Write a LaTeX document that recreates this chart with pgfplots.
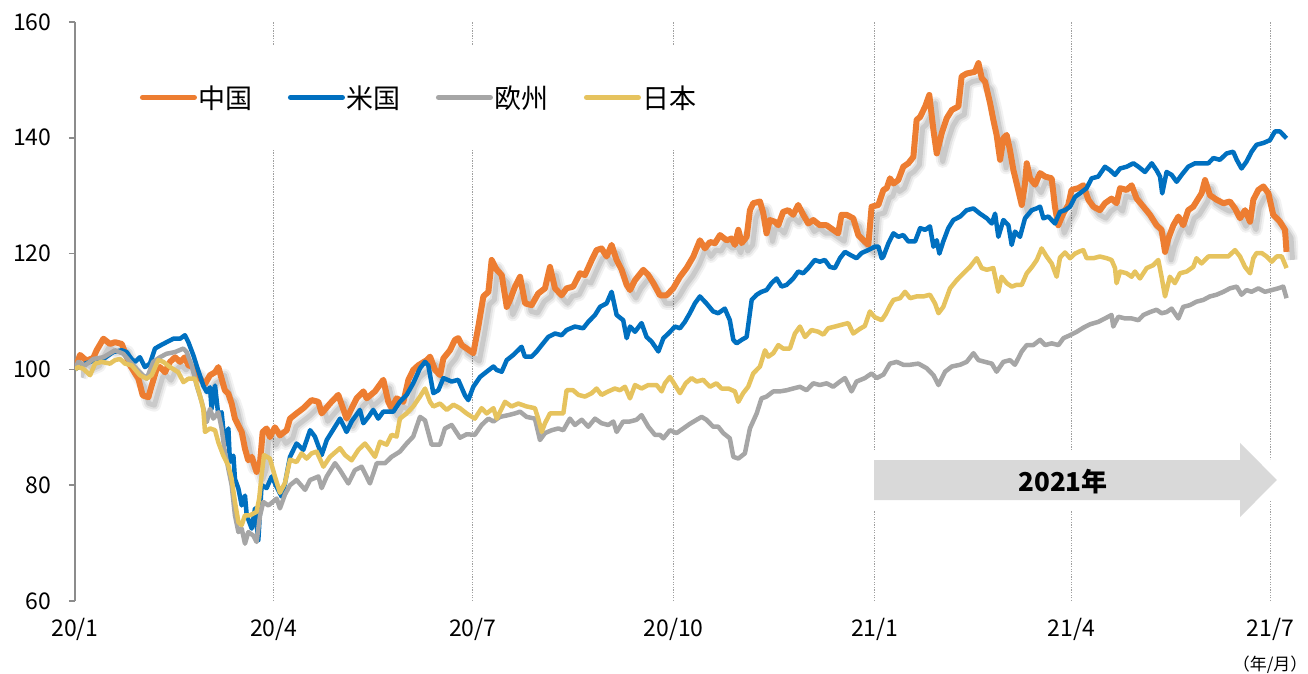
\documentclass[border=0pt]{standalone}
\usepackage{fontspec}
\setmainfont{Noto Sans CJK JP}
\usepackage{pgfplots}
\usepackage{pgfplotstable}
\pgfplotsset{compat=1.18}
\definecolor{cnorange}{HTML}{ED7D31}
\definecolor{usblue}{HTML}{0070C0}
\definecolor{eugray}{HTML}{A6A6A6}
\definecolor{jpyellow}{HTML}{E6C35E}
\definecolor{axisgray}{HTML}{8C8C8C}
\definecolor{gridgray}{HTML}{A0A0A0}
\definecolor{arrowgray}{HTML}{D9D9D9}

\pgfplotstableread{
d v
0 100
2.3 102.5
5.3 101.5
8.4 102
9.9 103.3
13 105.3
16 104.4
18.3 104.7
21.4 104.4
25.2 100.7
29 98.4
31 95.5
33.6 95.2
35.1 97.2
37.4 100.1
38.9 100.4
41.2 99.5
43.5 101.3
45.8 102.1
48.1 101.3
50.3 102.1
51.9 100.7
54.2 100.4
57.2 98.4
59.5 97.5
61.8 99
64.1 99.5
65.6 100.4
67.1 98.4
68.6 96.4
70.2 95.8
71.7 94.1
73.2 91.5
76.3 89.2
77.8 86.3
79.3 84.3
80.9 84.9
83.1 82.3
84.7 84
85.9 89.2
87.7 89.8
89.2 88.3
91.5 90
93.8 88.6
96.9 89.5
98.4 91.5
101.4 92.4
104.5 93.3
108.3 94.7
111.4 94.4
112.9 92.4
116.7 94.1
120.5 95.6
124.3 91.5
128.9 95
132 96.2
133.5 95
137.3 96.2
141.1 98.2
143.4 94.4
144.9 93.3
147.2 95
150.3 94.4
152.6 98.2
154.8 99.9
157.1 100.7
161 101.6
162.5 102.2
164.8 99.9
167.1 99
168.6 101.9
171.6 103.3
173.9 105.1
175.4 105.4
177 104.2
179.3 103.6
182.3 102.8
184.6 107.4
186.9 112.6
189.2 113.4
190.7 118.9
193 117.2
195.3 116.3
197.6 110.8
199.1 112
201.4 114.3
203.7 116
206 111.4
209 111.1
212 113.1
215.1 114
217.4 117.7
219.7 114
222.7 112.8
225 114
228 114.3
231.1 116.6
233.4 116.3
236.5 118.9
238.7 120.6
241 120.9
243.3 119.5
245.6 121.5
247.9 118.9
250.2 117.2
252.5 114.6
254 113.7
256.3 115.4
260.1 117.2
262.4 116.3
264.7 114.9
267.7 112.8
270.8 112.8
273.8 114
276.9 116
279.9 117.5
283 119.5
286 122.3
288.3 120.9
290.6 122
292.9 121.8
295.2 123.2
298.2 122.3
300.5 122.6
302 121.5
303.6 124.1
305.1 121.8
307.4 122.9
308.9 127.5
310.4 128.7
313.5 129
315 127
316.5 123.5
318 125.8
320.3 125.5
321.9 124.9
324.1 127.2
326.4 127.5
328.7 126.7
331 128.4
333.3 126.7
335.6 125.2
337.9 125.8
340.9 124.9
344 124.9
347 124.1
349.3 123.5
350.8 126.7
353.1 126.7
356.2 126.1
358.5 123.2
360.8 122.3
363.1 121.5
364.6 128.1
367.7 128.4
370 131
371.5 131.3
373 133
374.6 132.1
376.8 132.7
379.1 135
381.4 135.6
383.7 136.7
385.2 143.1
386.8 143.6
389.1 145.4
391 147.4
392.9 141.3
394.4 137.3
396.7 140.8
399 143.4
401.3 144.8
404.3 145.4
405.8 150.6
408.1 151.1
411.9 151.4
413.5 152.9
415 150.3
416.5 149.7
418.8 146
420.3 143.1
421.8 140.5
423.4 136.2
424.9 139.9
426.4 140.5
427.9 137.9
429.5 134.4
431 132.1
433.3 128.4
434.8 132.1
435.6 135.6
437.1 133
439.4 131.9
441.7 133.9
444 133.3
447 133
448.5 128.1
450 124.9
452.4 127
454.6 128.4
456.1 131
459.2 131.3
461.5 131.8
463.8 129.3
466.1 128.1
469.1 127.5
471.4 128.7
474.4 129.5
476.7 128.7
478.3 131.3
481.3 131
483.6 131.8
485.9 129.5
489 128.1
492 126.7
495 124.9
497.3 124.1
498.9 120.3
500.4 122.6
502.7 124.9
505 126.4
507.2 124.9
509.5 127.5
511.8 128.1
514.1 129.5
515.6 130.4
517.2 132.7
519.4 130.1
522.5 129.3
525.6 128.7
528.6 129
530.9 127.8
533.2 126.1
535.5 127.5
537.8 125.5
539.3 129.3
541.6 131
543.9 131.6
546.2 130.4
548.4 126.7
551.5 125.5
553.8 124.1
554.5 120.3
}\china

\pgfplotstableread{
d v
0 100
1.5 100.4
4.6 101
8.4 101.5
13 101.8
17.5 103
21.4 103.3
23.6 103
25.9 101.8
27.5 101.3
29.7 102.1
32 100.4
34.3 101
36.6 103.6
38.9 104.1
41.9 104.7
45 105.3
48.1 105.3
50.3 105.9
51.9 104.7
54.2 102.4
56.4 99.8
58.7 97.2
60.3 96.1
61.8 96.9
62.5 93.2
64.1 97.2
65.6 92.1
67.1 92.6
68.6 86.9
70.2 89.8
70.9 84
72.5 85.1
73.2 81.1
74.8 79.4
76.3 76.5
77.8 78.2
78.6 74.8
80.9 72.5
82.4 76
83.9 70.5
85.4 80
87.7 79.5
90 81.5
92.3 79.7
94.6 78
96.1 80.3
98.4 84.9
101.4 87.2
104.5 86.1
107.6 89.5
109.8 88.4
112.9 85.2
115.2 87.8
119 90.1
121.3 91.5
124.3 89.2
126.6 91
130.4 93
132 90.7
134.3 91.8
136.5 93
138.8 91.5
141.1 92.7
145.7 92.7
148.7 94.4
151.8 95.6
154.8 97.6
157.9 100.2
160.2 101.3
161.7 100.7
164 95.9
166.3 96.4
168.6 98.5
172.4 97.9
175.4 98.2
178.5 95.5
180 94.7
182.3 97
185.4 98.7
188.4 99.6
191.5 100.5
193 99.9
195.3 99.6
197.6 101.6
200.6 102.5
204.4 103.9
205.9 102.2
209 102.2
211.3 103.1
213.6 104.2
216.6 105.6
219.7 106.2
222.7 105.9
225 106.8
228.8 107.4
232.6 107.1
234.9 108.2
238 109.4
240.3 110.8
243.3 111.4
245.6 113.4
246.4 112
247.9 109.4
250.9 108.5
252.5 105.4
254 107.4
256.3 106.5
259.3 108
261.6 105.6
263.9 104.8
267 103.1
269.3 105.4
271.6 106.2
274.6 107.4
276.9 107.1
279.1 108.2
281.4 109.7
283.7 111.4
286 112.6
289 111.4
292.1 110
294.4 109.7
297.4 110.5
299.7 108.5
301.3 105.1
302.8 104.5
305.1 105.1
307.4 105.6
309.7 112
312 112.9
314.2 113.4
316.5 113.7
318.8 114.9
321.1 115.7
323.4 114.3
325.7 114.6
328.7 115.7
331 116.9
333.3 116.6
335.6 117.5
338.6 118.9
340.9 118.6
343.2 118.9
345.5 117.7
347.8 117.5
350.1 119.2
352.4 120.3
354.7 119.8
357.7 119.2
360 120.1
363 120.6
366.1 121.2
367.7 121.2
369.2 119.2
370 119.5
372.3 121.8
374.6 123.5
376.8 122.9
379.1 123.2
381.4 122.1
384.5 122.1
386.8 124.4
389.1 124.1
391.3 124.7
392.9 121.2
394.4 122.3
395.6 120
397.4 122.1
399.7 124.4
402 125.8
405.1 126.4
408.1 127.5
411.2 127.8
414.2 126.9
417.3 126.1
419.6 125.2
421.1 126.9
422.6 122.9
424.9 125.8
427.2 124.9
428.7 121.5
430.2 123.8
432.5 122.9
434.8 126.1
437.9 127.5
440.1 127.8
441.7 128.1
443.2 126.1
445.5 126.4
448.5 125.2
450.8 127.2
453.1 127.5
455.4 128.1
457.7 129.8
459.9 130.4
463 131.3
465.3 133
468.3 133.3
471.4 135
473.7 134.4
476 133.6
478.3 134.7
481.3 135
484.4 135.6
486.7 135
489.7 134.1
492.8 135.6
495 134.4
496.6 133.3
497.6 130.4
499.6 134.1
501.9 133.6
504.2 132.4
506.5 133.6
509.5 135
512.6 135.6
515.6 135.6
518.7 135.6
521 136.5
524 136.2
527.1 137.3
530.1 137.6
531.7 136.2
533.9 134.7
536.2 135.9
538.5 137.6
540.8 138.8
543.9 139.1
546.9 139.6
549.2 141.1
551.5 141.1
553 140.5
554.5 139.9
}\usa

\pgfplotstableread{
d v
0 100
1.5 101.3
4.6 100.7
8.4 101.8
13 102.1
18.3 103.3
22.1 102.7
25.2 101.3
29.7 99.5
32.8 98.4
35.8 101.3
38.9 102.1
41.9 102.7
45.8 103
49.6 103.6
51.1 103
53.4 100.7
55.7 97.2
58 94.4
60.3 90.9
61.8 93.2
63.3 91.5
65.6 92.6
67.1 89.8
68.6 85.7
70.2 82.8
71.7 80
73.2 74.8
74.8 71.9
76.3 72.5
77.8 69.9
79.3 71.9
81.6 71.3
83.1 70.2
84.7 74.8
86.2 77.1
88.5 76.5
90.8 77.2
92.3 77.7
93.8 76
96.1 78.4
98.4 80
101.4 80.9
105.3 79.2
107.6 80.9
111.4 81.5
112.9 79.5
115.2 81.5
119 83.8
121.3 82.6
125.1 80.3
128.1 82.6
131.2 83.2
135 80.3
138.1 83.8
141.9 83.8
144.9 84.9
148.7 85.8
151.8 87.2
154.8 88.4
157.9 91.8
160.2 91.2
163.2 87
167 87
169.3 89.8
172.4 90.4
176.2 88.2
179.3 88.8
183 88.7
186.1 90.4
189.2 91.5
191.5 91
194.5 91.8
198.3 92.1
201.4 92.4
203.7 92.7
206.7 91.8
210.5 91.5
212.8 87.8
215.1 89
218.2 89.5
221.2 89.8
223.5 89.5
226.5 91.5
228.8 90.4
231.9 91.3
234.9 90.1
238 91.5
241 90.7
244.1 90.4
246.4 91
247.9 89.2
250.9 91
254 91
257 91.3
259.3 92.1
262.4 90.1
265.4 88.7
267.7 88.7
269.3 88.1
272.3 89.5
275.3 89
278.4 89.8
281.4 90.6
284.5 91.3
286.8 91.8
289 91.3
292.1 90.1
294.4 90.1
296.7 89
299.7 88.1
301.3 84.9
303.6 84.6
306.6 85.5
308.9 89.8
312 92.4
314.2 95
316.5 95.3
319.6 96.2
322.6 96.2
325.7 96.4
328.7 96.7
331.8 97
334.8 96.4
337.9 97.6
340.9 97.3
344 97.6
347 97
350.1 97.9
352.4 98.5
355.4 96.2
357.7 97.9
361.5 98.5
364.6 99.3
366.9 98.5
370 99.1
373 101
376.1 101.3
379.1 100.8
382.2 100.8
386 101
389.8 100.2
392.9 99
395.2 97.3
398.2 99.6
401.3 100.5
405.1 100.8
408.1 101.3
411.2 102.8
413.5 101.6
416.5 101.3
419.6 101
421.8 99.6
424.9 101.3
427.9 101.6
430.2 100.8
433.3 103.1
435.6 104.2
438.6 104.2
441.7 105.1
444 104.2
447 104.5
450.1 104.2
452.4 105.4
455.4 105.9
458.5 106.5
461.5 107.2
464.6 107.8
468.3 108.2
471.4 108.8
474.4 109.4
475.2 107.4
477.5 109.1
480.6 108.8
483.6 108.8
486.7 108.5
489 109.4
492 109.9
495 110.3
497.3 109.7
499.6 109.9
501.9 110.5
505 108.8
507.2 110.8
510.3 111.1
513.3 111.7
516.4 112
519.4 112.6
522.5 112.9
525.6 113.4
528.6 114
531.7 114.3
533.9 112.9
536.2 113.7
538.5 113.4
541.6 114
544.6 113.4
547.7 113.7
550.7 114
553 114.3
554.5 112.3
}\europe

\pgfplotstableread{
d v
0 100
1.5 100.4
3.8 100.1
6.9 99
9.2 101
12.2 101.3
16 101
18.3 101.6
20.6 101.8
22.9 101
25.9 100.7
29.7 99
32.8 98.4
35.1 99
38.1 101.6
40.4 101.3
43.5 100.4
47.3 99.5
49.6 97.8
51.9 98.4
54.9 98.4
57.2 95.5
58.7 93.2
59.5 89.2
61.8 89.8
64.1 89.5
65.6 87.4
67.9 85.1
70.2 83.4
71.7 81.1
73.2 77.1
74.8 73.6
76.3 73.1
77.8 74.8
80.1 74.8
83.1 75.4
84.3 77.7
85.4 81.7
86.5 85.2
89.2 84.6
91.5 81.5
93.8 78.7
96.1 80.4
98.4 84.4
101.4 84
103.7 85.5
106 84.6
108.3 85.5
110.6 85.8
113.7 83.2
116.7 84.9
121.3 86.4
123.6 85.2
126.6 84.3
129.7 86.1
132.7 87.2
135 86.1
137.3 84.9
139.6 87.5
142.6 87
144.9 88.7
147.2 88.4
148.7 91.5
151.8 92.4
154.8 93.6
157.9 95.3
160.2 96.7
162.5 94.4
164 93.6
167.1 94.1
170.1 93
173.2 93.9
176.2 93.3
179.2 92.4
183 91.5
186.1 93.3
188.4 92.4
191.5 93.3
193 91.5
196.8 94.4
199.8 93.6
202.9 94.1
206.7 93.6
210.5 93.3
212 91.5
213.6 89.2
215.1 90.7
217.4 92.4
220.5 92.4
223.5 92.4
225 96.4
228 96.4
230.4 95.6
233.4 95.3
236.5 95.9
238.7 96.7
241 95.6
244.1 96.2
247.1 96.7
249.4 96.4
251.7 97
254 95
256.3 97.3
259.3 96.7
262.4 97.3
266.2 97.3
268.5 96.2
270 97.6
272.3 98.7
274.6 97.3
276.9 95.9
279.5 97.6
282.2 98.5
284.5 97.9
287.5 98.2
290.6 97
293.6 97.6
295.9 96.7
299 96.7
302 96.2
303.6 94.4
305.8 95.9
308.1 97
310.4 99.3
313.5 100.5
315.8 103.3
317.3 102.2
319.6 102.8
321.9 104.2
324.1 103.6
327.2 103.6
329.5 106.2
331.8 107.4
334.1 105.6
337.1 106.8
340.2 106.5
342.5 106
344.7 107.1
347.8 107.4
350.8 107.7
353.9 108
356.2 106.2
359.2 107
361.5 107.5
363.8 110
366.1 109
369.2 108.5
371 109.5
373 111
374.6 112
377.6 112.3
379.9 113.4
382.2 112.3
385.2 112.6
388.3 112.6
391.3 112.9
393.6 111.4
395.2 109.7
397.4 110.8
400.5 114
403.5 115.4
406.6 116.6
409.6 117.7
412.7 119.2
415 117.5
417.3 117.2
420.3 117.5
422.6 113.4
424.1 116
426.4 114.9
428.7 114.3
431 114.6
433.3 114.6
435.6 116.6
438 117.7
440.2 118.9
442.4 120.9
444.7 119.5
447 118.3
449.3 116
450.8 119.3
453.1 120.2
455.4 119.2
457.7 120
459.9 120.4
461.5 120.6
463 119.2
466.1 119.2
469.1 119.5
472.2 119.2
474.4 118.9
476 117.5
476.7 114.9
478.3 116.9
481.3 116.6
483.6 116
485.1 116.9
487.4 115.7
490.5 117.5
493.5 118
495.8 118.9
497.3 116
498.9 112.6
501.1 116
503.4 114.9
505.7 116.6
508.8 116.9
511.8 117.7
513.3 119.2
515.6 118.3
518.7 119.5
521.7 119.5
524.8 119.5
527.8 119.5
530.9 120.6
533.2 119.5
535.5 117.7
537.8 116.6
539.3 119.2
540.8 120.1
543.1 120.1
545.4 119.5
547.7 118.6
550 119.5
552.3 119.5
554.5 117.5
}\japan

\begin{document}
\begin{tikzpicture}
\begin{axis}[
  scale only axis, width=1217pt, height=579pt,
  xmin=0, xmax=557, ymin=60, ymax=160,
  xtick={0,91,182,274,366,456,547},
  xticklabels={20/1,20/4,20/7,20/10,21/1,21/4,21/7},
  ytick={60,80,100,120,140,160},
  axis x line*=bottom, axis y line*=left,
  x axis line style={draw=none},
  y axis line style={draw=axisgray, line width=1.5pt},
  xtick style={draw=none},
  ytick style={draw=axisgray, line width=1.5pt},
  tick align=outside, major tick length=6pt,
  xmajorgrids,
  major x grid style={draw=gridgray, line width=1.3pt, dash pattern=on 1.3pt off 1.3pt},
  tick label style={font=\fontsize{23}{27}\selectfont, text=black},
  /pgf/number format/assume math mode=true,
  yticklabel style={xshift=-14pt},
  xticklabel style={yshift=-8pt},
  clip mode=individual,
  legend columns=4,
  legend style={at={(0.045,0.96)}, anchor=north west, draw=none, fill=white,
    inner xsep=10pt, inner ysep=38pt, font=\fontsize{27}{31}\selectfont,
    /tikz/every even column/.append style={column sep=33pt}},
  legend image code/.code={\draw[#1, line width=5pt, line cap=round] (0pt,0pt) -- (52pt,0pt);},
]
\begin{scope}[transform canvas={xshift=3pt,yshift=-4pt}]
\addplot[forget plot, draw=black, opacity=0.05, line width=13pt, line join=round] table[x=d,y=v] {\china};
\addplot[forget plot, draw=black, opacity=0.07, line width=9pt, line join=round] table[x=d,y=v] {\china};
\addplot[forget plot, draw=black, opacity=0.10, line width=5pt, line join=round] table[x=d,y=v] {\china};
\end{scope}
\addplot[cnorange, line width=6pt, line join=round] table[x=d,y=v] {\china};
\addlegendentry{中国}
\addplot[usblue, line width=4.5pt, line join=round] table[x=d,y=v] {\usa};
\addlegendentry{米国}
\addplot[eugray, line width=4.5pt, line join=round] table[x=d,y=v] {\europe};
\addlegendentry{欧州}
\addplot[jpyellow, line width=4.5pt, line join=round] table[x=d,y=v] {\japan};
\addlegendentry{日本}
\fill[white, draw=white, line width=20pt, line join=round]
  (axis cs:365.7,84.35) -- (axis cs:533.2,84.35) -- (axis cs:533.2,87.3) -- (axis cs:550.1,80.9)
  -- (axis cs:533.2,74.5) -- (axis cs:533.2,77.44) -- (axis cs:365.7,77.44) -- cycle;
\fill[arrowgray]
  (axis cs:365.7,84.35) -- (axis cs:533.2,84.35) -- (axis cs:533.2,87.3) -- (axis cs:550.1,80.9)
  -- (axis cs:533.2,74.5) -- (axis cs:533.2,77.44) -- (axis cs:365.7,77.44) -- cycle;
\node[font=\fontsize{26}{30}\selectfont\bfseries] at (axis cs:452.2,80.6) {2021年};
\node[font=\fontsize{17}{20}\selectfont] at (axis cs:547,60) [yshift=-64pt] {（年/月）};
\end{axis}
\pgfresetboundingbox
\path[use as bounding box] ([xshift=-75pt,yshift=-73pt]current axis.south west) rectangle ++(1308pt,674pt);
\end{tikzpicture}
\end{document}
